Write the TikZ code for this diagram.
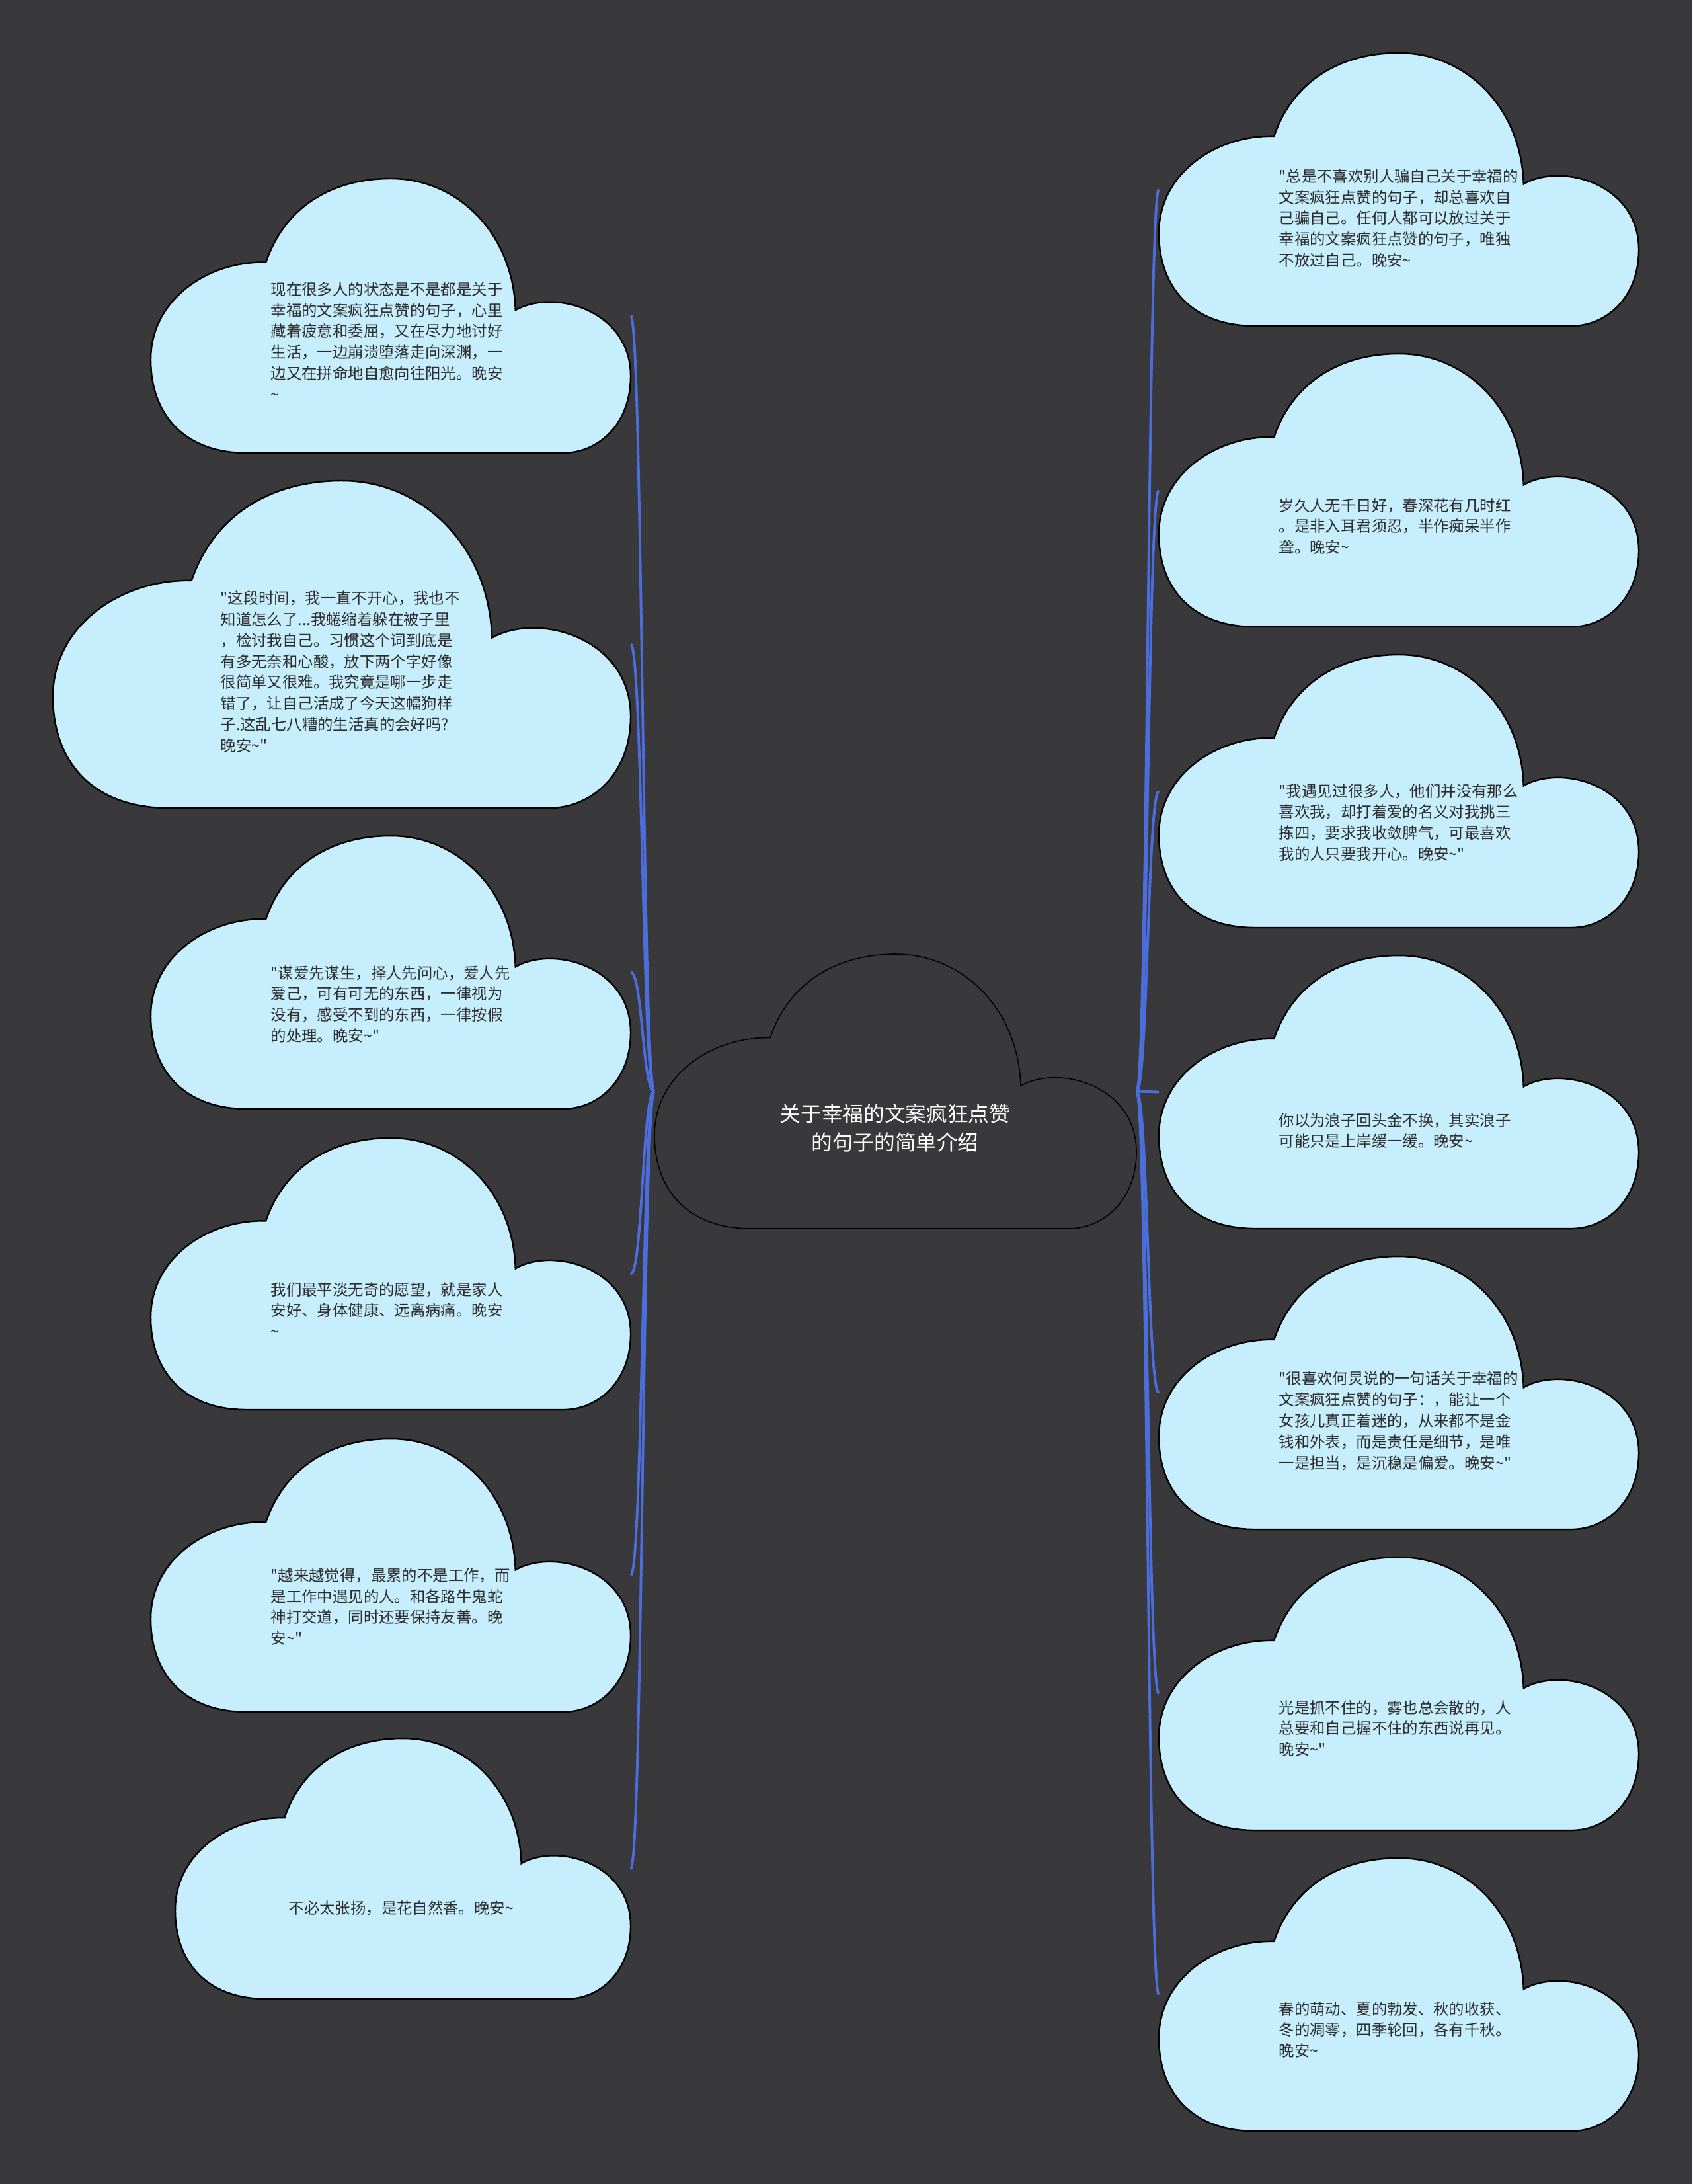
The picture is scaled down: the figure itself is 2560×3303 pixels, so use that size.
\documentclass[tikz,border=0pt]{standalone}
\usepackage{fontspec}
\setmainfont{Noto Sans CJK SC}[Ligatures=TeXOff]
\definecolor{bg}{RGB}{57,56,58}
\definecolor{cloudfill}{RGB}{199,238,253}
\definecolor{linkblue}{RGB}{75,110,220}
\definecolor{txt}{RGB}{45,45,45}
\newcommand\wan{\textasciitilde}
% #1 name, #2 x0, #3 y0, #4 w, #5 h, #6 style
\newcommand\cloud[6]{%
  \draw[#6, shift={(#2,#3)}, xscale=#4, yscale=#5]
    (0.2,1) .. controls (0.07,1) and (0,0.86) .. (0,0.66)
    .. controls (0,0.44) and (0.12,0.30) .. (0.24,0.305)
    .. controls (0.28,0.10) and (0.38,0) .. (0.5,0)
    .. controls (0.64,0) and (0.755,0.2) .. (0.76,0.48)
    .. controls (0.84,0.40) and (1,0.48) .. (1,0.72)
    .. controls (1,0.9) and (0.93,1) .. (0.86,1) -- cycle;
}
\tikzset{
  leafcloud/.style={fill=cloudfill, draw=black, line width=0.7pt},
  rootcloud/.style={fill=bg, draw=black, line width=0.45pt},
  link/.style={draw=linkblue, line width=1.1pt},
  leaftext/.style={anchor=west, align=left, inner sep=0pt, text=txt, font=\fontsize{6.65}{9.05}\selectfont},
  roottext/.style={anchor=center, align=center, inner sep=0pt, text=white, font=\fontsize{9}{12}\selectfont},
}
\begin{document}
\begin{tikzpicture}[x=0.01cm, y=-0.01cm]
\fill[bg] (0,0) rectangle (2560,3303);
\useasboundingbox (0,0) rectangle (2560,3303);

% invisible anchors first so connectors can be drawn behind the clouds
\node[inner sep=0pt, outer sep=0pt, minimum width=7.29cm, minimum height=4.15cm] (C) at (1354.5,1650.5) {};
\foreach \nm/\xx/\yy/\ww/\hh in {L1/228/270/726/415, L2/80/727/874/495, L3/228/1264/726/413, L4/228/1721/726/411, L5/228/2176/726/413, L6/265/2629/689/394, R1/1753/80/726/413, R2/1753/535/726/413, R3/1753/990/726/413, R4/1753/1445/726/413, R5/1753/1900/726/413, R6/1753/2355/726/413, R7/1753/2810/726/413}
  \node[inner sep=0pt, outer sep=0pt, minimum width=\ww*0.01cm, minimum height=\hh*0.01cm] (\nm) at (\xx+\ww/2,\yy+\hh/2) {};

\foreach \nm in {L1,L2,L3,L4,L5,L6}
  \draw[link] (C.west) .. controls +(-18,0) and +(18,0) .. (\nm.east);
\foreach \nm in {R1,R2,R3,R4,R5,R6,R7}
  \draw[link] (C.east) .. controls +(17,0) and +(-17,0) .. (\nm.west);

\cloud{C}{990}{1443}{729}{415}{rootcloud}
\cloud{L1}{228}{270}{726}{415}{leafcloud}
\cloud{L2}{80}{727}{874}{495}{leafcloud}
\cloud{L3}{228}{1264}{726}{413}{leafcloud}
\cloud{L4}{228}{1721}{726}{411}{leafcloud}
\cloud{L5}{228}{2176}{726}{413}{leafcloud}
\cloud{L6}{265}{2629}{689}{394}{leafcloud}
\cloud{R1}{1753}{80}{726}{413}{leafcloud}
\cloud{R2}{1753}{535}{726}{413}{leafcloud}
\cloud{R3}{1753}{990}{726}{413}{leafcloud}
\cloud{R4}{1753}{1445}{726}{413}{leafcloud}
\cloud{R5}{1753}{1900}{726}{413}{leafcloud}
\cloud{R6}{1753}{2355}{726}{413}{leafcloud}
\cloud{R7}{1753}{2810}{726}{413}{leafcloud}

\node[roottext] (Ct) at (1354,1706) {关于幸福的文案疯狂点赞\\的句子的简单介绍};

\node[leaftext] (L1t) at (409,516) {现在很多人的状态是不是都是关于\\幸福的文案疯狂点赞的句子，心里\\藏着疲意和委屈，又在尽力地讨好\\生活，一边崩溃堕落走向深渊，一\\边又在拼命地自愈向往阳光。晚安\\\wan};
\node[leaftext] (L2t) at (333,1016) {"这段时间，我一直不开心，我也不\\知道怎么了...我蜷缩着躲在被子里\\，检讨我自己。习惯这个词到底是\\有多无奈和心酸，放下两个字好像\\很简单又很难。我究竟是哪一步走\\错了，让自己活成了今天这幅狗样\\子.这乱七八糟的生活真的会好吗?\\晚安\wan"};
\node[leaftext] (L3t) at (409,1519) {"谋爱先谋生，择人先问心，爱人先\\爱己，可有可无的东西，一律视为\\没有，感受不到的东西，一律按假\\的处理。晚安\wan"};
\node[leaftext] (L4t) at (409,1981) {我们最平淡无奇的愿望，就是家人\\安好、身体健康、远离病痛。晚安\\\wan};
\node[leaftext] (L5t) at (409,2430) {"越来越觉得，最累的不是工作，而\\是工作中遇见的人。和各路牛鬼蛇\\神打交道，同时还要保持友善。晚\\安\wan"};
\node[leaftext] (L6t) at (436,2886) {不必太张扬，是花自然香。晚安\wan};

\node[leaftext] (R1t) at (1934,330) {"总是不喜欢别人骗自己关于幸福的\\文案疯狂点赞的句子，却总喜欢自\\己骗自己。任何人都可以放过关于\\幸福的文案疯狂点赞的句子，唯独\\不放过自己。晚安\wan};
\node[leaftext] (R2t) at (1934,796) {岁久人无千日好，春深花有几时红\\。是非入耳君须忍，半作痴呆半作\\聋。晚安\wan};
\node[leaftext] (R3t) at (1934,1244) {"我遇见过很多人，他们并没有那么\\喜欢我，却打着爱的名义对我挑三\\拣四，要求我收敛脾气，可最喜欢\\我的人只要我开心。晚安\wan"};
\node[leaftext] (R4t) at (1934,1710) {你以为浪子回头金不换，其实浪子\\可能只是上岸缓一缓。晚安\wan};
\node[leaftext] (R5t) at (1934,2149) {"很喜欢何炅说的一句话关于幸福的\\文案疯狂点赞的句子：，能让一个\\女孩儿真正着迷的，从来都不是金\\钱和外表，而是责任是细节，是唯\\一是担当，是沉稳是偏爱。晚安\wan"};
\node[leaftext] (R6t) at (1934,2614) {光是抓不住的，雾也总会散的，人\\总要和自己握不住的东西说再见。\\晚安\wan"};
\node[leaftext] (R7t) at (1934,3070) {春的萌动、夏的勃发、秋的收获、\\冬的凋零，四季轮回，各有千秋。\\晚安\wan};
\end{tikzpicture}
\end{document}
